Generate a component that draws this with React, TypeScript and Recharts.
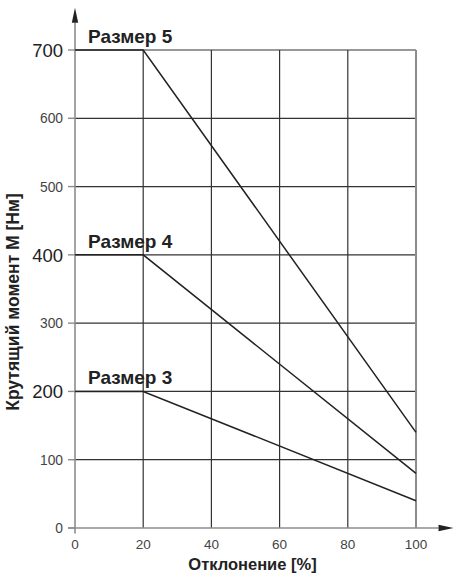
import React from 'react';
import { LineChart, Line, XAxis, YAxis, ReferenceLine, LabelList, Label } from 'recharts';

const deviation = [0, 20, 100];
const size3 = [200, 200, 40];
const size4 = [400, 400, 80];
const size5 = [700, 700, 140];
const seriesNames = ['Размер 3', 'Размер 4', 'Размер 5'];
const xTicks = [0, 20, 40, 60, 80, 100];
const yTicks = [0, 100, 200, 300, 400, 500, 600, 700];
const gridX = [20, 40, 60, 80];
const gridY = [100, 200, 300, 400, 500, 600, 700];
const xTitle = 'Отклонение [%]';
const yTitle = 'Крутящий момент M [Нм]';

const data = deviation.map((d, i) => ({ x: d, s3: size3[i], s4: size4[i], s5: size5[i] }));
const highlighted = [size3[0], size4[0], size5[0]];

const FONT = 'Liberation Sans, Arial, sans-serif';

const YTick = (props: any) => {
  const { x, y, payload } = props;
  const big = highlighted.includes(payload.value);
  return (
    <text x={x} y={y} dy="0.36em" textAnchor="end" fontFamily={FONT}
      fontSize={big ? 18.5 : 13.8} fill={big ? '#222' : '#444'}>
      {payload.value}
    </text>
  );
};

const XTick = (props: any) => {
  const { x, y, payload } = props;
  return (
    <text x={x} y={y} dy="0.71em" textAnchor="middle" fontFamily={FONT} fontSize={13.5} fill="#444">
      {payload.value}
    </text>
  );
};

const ArrowShape = (props: any) => {
  const { x1, y1, x2, y2 } = props;
  const dx = x2 - x1, dy = y2 - y1;
  const len = Math.sqrt(dx * dx + dy * dy) || 1;
  const ux = dx / len, uy = dy / len;
  const head = 15, half = 3.2;
  const bx = x2 - ux * head, by = y2 - uy * head;
  const px = -uy, py = ux;
  return (
    <g>
      <line x1={x1} y1={y1} x2={bx} y2={by} stroke="#8c8c8c" strokeWidth={1.6} />
      <polygon
        points={`${x2},${y2} ${bx + px * half},${by + py * half} ${bx - px * half},${by - py * half}`}
        fill="#222"
      />
    </g>
  );
};

const makeLabel = (name: string) => (props: any) => {
  const { x, y, index } = props;
  if (index !== 0) return null;
  return (
    <text x={x + 13} y={y - 7} fontFamily={FONT} fontWeight="bold" fontSize={19} fill="#222">
      {name}
    </text>
  );
};

const XTitle = (props: any) => {
  const vb = props.viewBox || {};
  const cx = vb.x + vb.width / 2 + 7;
  return (
    <text x={cx} y={570} textAnchor="middle" fontFamily={FONT} fontWeight="bold" fontSize={16.5} fill="#222">
      {xTitle}
    </text>
  );
};

const YTitle = (props: any) => {
  const vb = props.viewBox || {};
  const cy = vb.y + vb.height / 2 + 13;
  const bx = 19;
  return (
    <text x={bx} y={cy} transform={`rotate(-90, ${bx}, ${cy})`} textAnchor="middle" fontFamily={FONT}
      fontWeight="bold" fontSize={17.5} fill="#222">
      {yTitle}
    </text>
  );
};

export default function App() {
  return (
    <div style={{ position: 'absolute', left: 0, top: 0, width: 454, height: 576, background: '#fff' }}>
      <LineChart width={454} height={576} data={data} margin={{ top: 50, right: 38, left: 0, bottom: 0 }}>
        <XAxis
          dataKey="x"
          type="number"
          domain={[0, 100]}
          ticks={xTicks}
          axisLine={false}
          tickLine={false}
          tickSize={0}
          tickMargin={11}
          height={48}
          tick={<XTick />}
        >
          <Label content={XTitle} />
        </XAxis>
        <YAxis
          type="number"
          domain={[0, 700]}
          ticks={yTicks}
          width={75}
          axisLine={false}
          tickLine={{ stroke: '#8c8c8c', strokeWidth: 1.4 }}
          tickSize={7}
          tickMargin={5}
          tick={<YTick />}
        >
          <Label content={YTitle} />
        </YAxis>
        {gridY.map((v) => (
          <ReferenceLine key={'gy' + v} y={v} stroke="#333" strokeWidth={1.2} ifOverflow="visible" />
        ))}
        {gridX.map((v) => (
          <ReferenceLine key={'gx' + v} x={v} stroke="#333" strokeWidth={1.2} ifOverflow="visible" />
        ))}
        <ReferenceLine x={100} stroke="#8c8c8c" strokeWidth={2} ifOverflow="visible" />
        <ReferenceLine segment={[{ x: -2, y: 0 }, { x: 111, y: 0 }]} ifOverflow="visible" shape={ArrowShape} />
        <ReferenceLine segment={[{ x: 0, y: -8 }, { x: 0, y: 762 }]} ifOverflow="visible" shape={ArrowShape} />
        <Line dataKey="s3" stroke="#222" strokeWidth={1.5} dot={false} isAnimationActive={false}>
          <LabelList dataKey="s3" content={makeLabel(seriesNames[0])} />
        </Line>
        <Line dataKey="s4" stroke="#222" strokeWidth={1.5} dot={false} isAnimationActive={false}>
          <LabelList dataKey="s4" content={makeLabel(seriesNames[1])} />
        </Line>
        <Line dataKey="s5" stroke="#222" strokeWidth={1.5} dot={false} isAnimationActive={false}>
          <LabelList dataKey="s5" content={makeLabel(seriesNames[2])} />
        </Line>
      </LineChart>
    </div>
  );
}
